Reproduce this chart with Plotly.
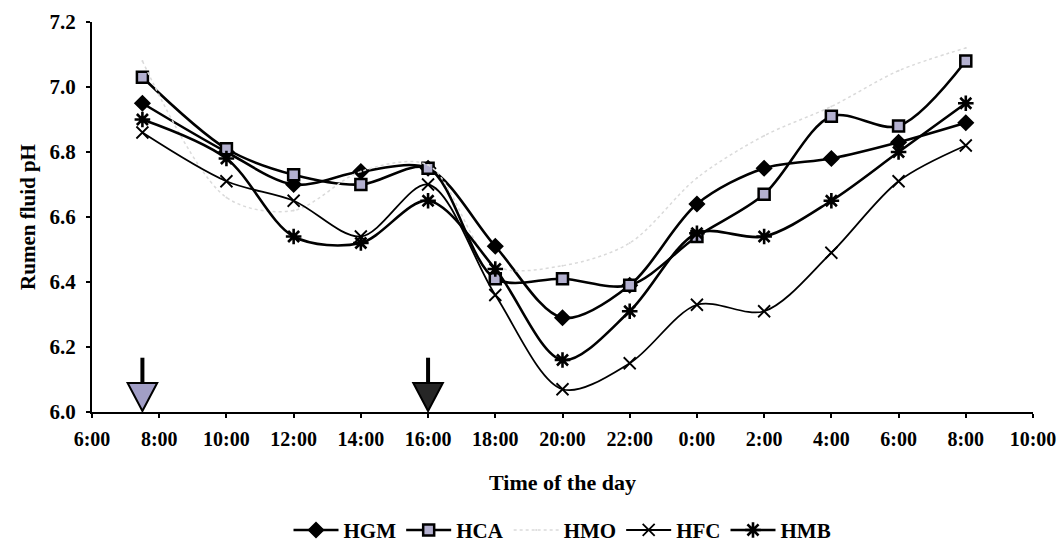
import plotly.graph_objects as go

# Sampling times (hours from 0:00 of day 1; values > 24 are next day)
hours = [7.5, 10, 12, 14, 16, 18, 20, 22, 24, 26, 28, 30, 32]

hgm = [6.95, 6.80, 6.70, 6.74, 6.75, 6.51, 6.29, 6.39, 6.64, 6.75, 6.78, 6.83, 6.89]
hca = [7.03, 6.81, 6.73, 6.70, 6.75, 6.41, 6.41, 6.39, 6.54, 6.67, 6.91, 6.88, 7.08]
hmo = [7.08, 6.66, 6.62, 6.74, 6.76, 6.45, 6.45, 6.52, 6.72, 6.85, 6.94, 7.05, 7.12]
hfc = [6.86, 6.71, 6.65, 6.54, 6.70, 6.36, 6.07, 6.15, 6.33, 6.31, 6.49, 6.71, 6.82]
hmb = [6.90, 6.78, 6.54, 6.52, 6.65, 6.44, 6.16, 6.31, 6.55, 6.54, 6.65, 6.80, 6.95]

tick_vals = [6, 8, 10, 12, 14, 16, 18, 20, 22, 24, 26, 28, 30, 32, 34]
tick_text = ["6:00", "8:00", "10:00", "12:00", "14:00", "16:00", "18:00", "20:00",
             "22:00", "0:00", "2:00", "4:00", "6:00", "8:00", "10:00"]
y_ticks = [6.0, 6.2, 6.4, 6.6, 6.8, 7.0, 7.2]

feed_times = [7.5, 16]
feed_colors = ["#a19ec6", "#262626"]

FONT = "Liberation Serif"

fig = go.Figure()

def add(name, y, symbol, size, lw, mcolor, mline, dash="solid", lcolor="black", msize_line=2):
    fig.add_trace(go.Scatter(
        x=hours, y=y, name=name, mode="lines+markers",
        line=dict(color=lcolor, width=lw, shape="spline", smoothing=0.9, dash=dash),
        marker=dict(symbol=symbol, size=size, color=mcolor,
                    line=dict(color=mline, width=msize_line)),
    ))

add("HGM", hgm, "diamond", 11, 2.6, "black", "black")
add("HCA", hca, "square", 11, 2.6, "#b3b0cf", "black", msize_line=2.5)
add("HMO", hmo, "circle", 2, 1.5, "#dadada", "#dadada", dash="dot", lcolor="#dadada", msize_line=0)
add("HFC", hfc, "x-thin-open", 12, 1.8, "black", "black", msize_line=1.8)
add("HMB", hmb, "asterisk-open", 13, 2.6, "black", "black", msize_line=2.6)

shapes = []
for t, c in zip(feed_times, feed_colors):
    shapes.append(dict(type="line", xref="x", yref="y", x0=t, x1=t, y0=6.085, y1=6.167,
                       line=dict(color="black", width=4)))
    shapes.append(dict(type="path", xref="x", yref="y",
                       path=f"M {t-0.44},6.089 L {t+0.44},6.089 L {t},6.003 Z",
                       fillcolor=c, line=dict(color="black", width=2)))

fig.update_layout(
    width=1061, height=549,
    margin=dict(l=92, r=28, t=22, b=137, autoexpand=False),
    paper_bgcolor="white", plot_bgcolor="white",
    font=dict(family=FONT, size=20, color="black"),
    shapes=shapes,
    showlegend=True,
    legend=dict(orientation="h", x=0.5, xanchor="center",
                yref="container", y=0.034, yanchor="middle",
                font=dict(family=FONT, size=21, color="black", weight="bold"),
                itemwidth=45, tracegroupgap=0),
    xaxis=dict(range=[6, 34], tickvals=tick_vals, ticktext=tick_text,
               showline=True, linecolor="black", linewidth=2, showgrid=False,
               zeroline=False, ticks="outside", ticklen=4, tickwidth=1.5, tickcolor="black",
               tickfont=dict(family=FONT, size=20, color="black", weight="bold"),
               ticklabelstandoff=4,
               title=dict(text="<b>Time of the day</b>", font=dict(family=FONT, size=22), standoff=26)),
    yaxis=dict(range=[6.0, 7.2], tickvals=y_ticks, tickformat=".1f",
               showline=True, linecolor="black", linewidth=2, showgrid=False,
               zeroline=False, ticks="outside", ticklen=4, tickwidth=1.5, tickcolor="black",
               tickfont=dict(family=FONT, size=21, color="black", weight="bold"),
               ticklabelstandoff=6,
               title=dict(text="<b>Rumen fluid pH</b>", font=dict(family=FONT, size=21), standoff=8)),
)

fig.write_html("out.html")
